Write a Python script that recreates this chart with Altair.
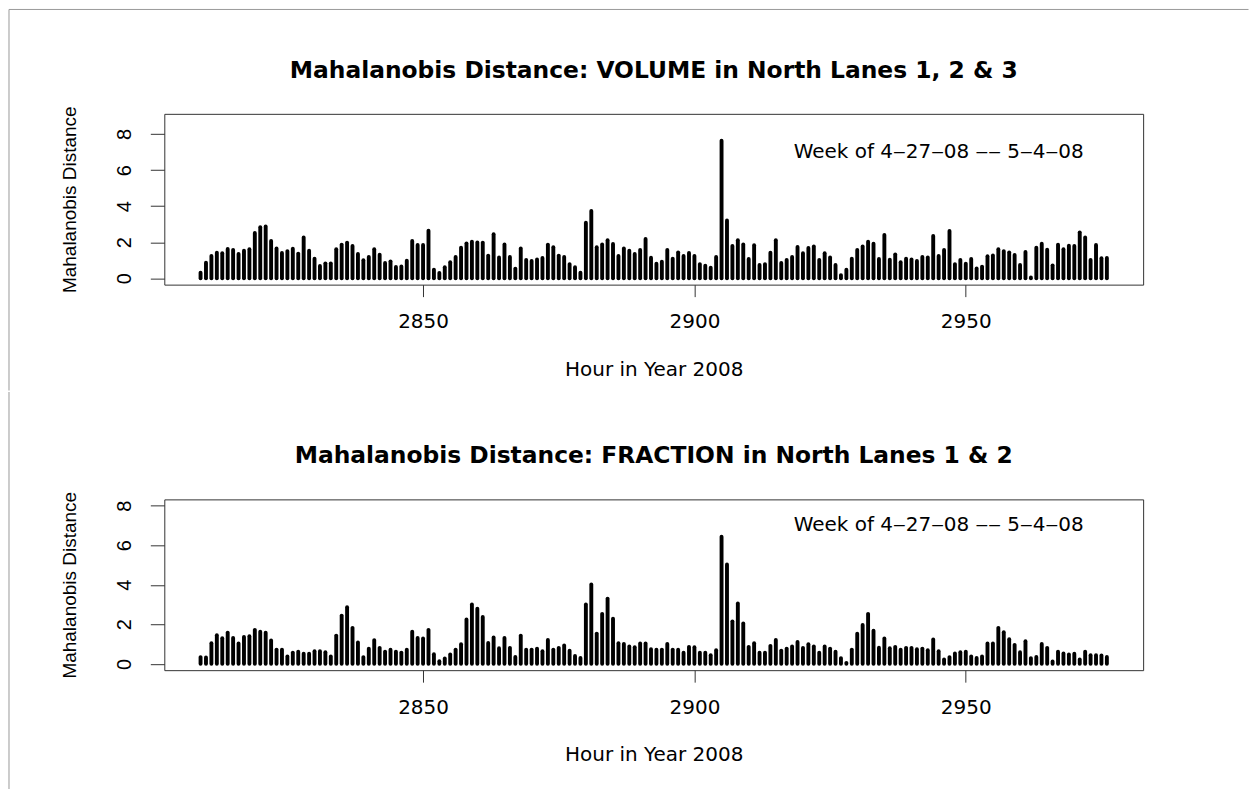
import altair as alt
import pandas as pd

# Hourly Mahalanobis distances, week of 4-27-08 to 5-4-08 (hours 2809..2976)
FIRST_HOUR = 2809

volume_md = [
    0.31, 0.87, 1.24, 1.42, 1.39, 1.63, 1.57, 1.35, 1.53, 1.61,
    2.51, 2.83, 2.88, 2.07, 1.66, 1.40, 1.51, 1.64, 1.37, 2.27,
    1.53, 1.09, 0.68, 0.83, 0.83, 1.61, 1.87, 1.98, 1.79, 1.35,
    1.00, 1.18, 1.61, 1.31, 0.85, 0.94, 0.63, 0.66, 0.98, 2.07,
    1.85, 1.85,
    2.64, 0.48, 0.30, 0.61, 0.89, 1.18, 1.70, 1.94, 2.03, 1.99,
    1.98, 1.26, 2.44, 1.16, 1.88, 1.18, 0.54, 1.66, 1.02, 0.96,
    1.05, 1.13, 1.87, 1.72, 1.26, 1.18, 0.79, 0.61, 0.31, 3.08,
    3.73, 1.72, 1.88, 2.11, 1.90, 1.24, 1.66, 1.53, 1.35, 1.57,
    2.18, 1.14, 0.81,
    0.92, 1.57, 1.09, 1.44, 1.24, 1.40, 1.24, 0.79, 0.70, 0.59,
    1.18, 7.63, 3.21, 1.79, 2.11, 1.88, 1.07, 1.83, 0.74, 0.79,
    1.42, 2.11, 0.85, 1.02, 1.18, 1.74, 1.39, 1.68, 1.77, 1.02,
    1.39, 1.16, 0.74, 0.18, 0.48, 1.09, 1.57, 1.77, 2.03, 1.92,
    1.07, 2.40, 1.03,
    1.33, 0.89, 1.09, 1.05, 0.96, 1.18, 1.16, 2.35, 1.24, 1.57,
    2.62, 0.79, 1.02, 0.81, 1.07, 0.55, 0.65, 1.22, 1.27, 1.61,
    1.51, 1.44, 1.29, 0.74, 1.46, 0.05, 1.70, 1.92, 1.59, 0.72,
    1.87, 1.61, 1.81, 1.79, 2.55, 2.27, 1.02, 1.85, 1.11, 1.13,
]

fraction_md = [
    0.34, 0.32, 1.04, 1.45, 1.30, 1.58, 1.31, 1.03, 1.36, 1.40,
    1.72, 1.62, 1.57, 1.18, 0.72, 0.72, 0.37, 0.57, 0.61, 0.51,
    0.51, 0.64, 0.64, 0.59, 0.37, 1.43, 2.44, 2.86, 1.82, 1.08,
    0.34, 0.76, 1.20, 0.81, 0.62, 0.71, 0.61, 0.57, 0.71, 1.62,
    1.31, 1.28,
    1.72, 0.49, 0.13, 0.27, 0.47, 0.72, 0.99, 2.24, 3.00, 2.79,
    2.37, 1.06, 1.33, 0.79, 1.31, 0.81, 0.35, 1.43, 0.71, 0.72,
    0.77, 0.64, 1.21, 0.72, 0.81, 0.93, 0.66, 0.40, 0.30, 3.00,
    4.02, 1.53, 2.53, 3.30, 2.29, 1.04, 1.01, 0.88, 0.84, 1.03,
    1.03, 0.74, 0.71,
    0.72, 1.01, 0.72, 0.71, 0.56, 0.86, 0.84, 0.56, 0.56, 0.44,
    0.69, 6.43, 5.03, 2.15, 3.05, 2.04, 0.86, 1.04, 0.56, 0.56,
    0.91, 1.21, 0.67, 0.77, 0.88, 1.11, 0.81, 0.99, 0.88, 0.56,
    0.88, 0.77, 0.61, 0.29, 0.05, 0.72, 1.52, 1.97, 2.53, 1.68,
    0.82, 1.28, 0.79,
    0.86, 0.71, 0.81, 0.81, 0.74, 0.77, 0.69, 1.23, 0.64, 0.22,
    0.34, 0.52, 0.59, 0.61, 0.37, 0.30, 0.37, 1.03, 1.03, 1.82,
    1.60, 1.25, 0.96, 0.59, 1.14, 0.29, 0.35, 1.01, 0.81, 0.12,
    0.62, 0.52, 0.47, 0.51, 0.22, 0.61, 0.44, 0.44, 0.42, 0.35,
]

hours = list(range(FIRST_HOUR, FIRST_HOUR + len(volume_md)))

x_ticks = [2850, 2900, 2950]
y_ticks = [0, 2, 4, 6, 8]
x_domain = [2802.32, 2982.68]
volume_ydomain = [-0.35, 9.12]
fraction_ydomain = [-0.32, 8.32]

week_label = "Week of 4\u201227\u201208 \u2012\u2012 5\u20124\u201208"
label_hour = [2945]
label_md = [7]

volume_title = "Mahalanobis Distance: VOLUME in North Lanes 1, 2 & 3"
fraction_title = "Mahalanobis Distance: FRACTION in North Lanes 1 & 2"
x_title = "Hour in Year 2008"
y_title = "Mahalanobis Distance"

H_FONT = "DejaVu Sans"      # horizontal text
V_FONT = "Liberation Sans"  # rotated text
INK = "black"
BOX = "#333333"
EDGE = "#999999"

W, H = 980, 171


def page_edge(x, y=None, x2=None, y2=None):
    enc = {"x": alt.value(x)}
    if y is not None:
        enc["y"] = alt.value(y)
    if x2 is not None:
        enc["x2"] = alt.value(x2)
    if y2 is not None:
        enc["y2"] = alt.value(y2)
    return (
        alt.Chart(pd.DataFrame({"k": [0]}))
        .mark_rule(color=EDGE, strokeWidth=1)
        .encode(**enc)
    )


def panel(values, title, ydomain, title_dy, edges):
    df = pd.DataFrame({"hour": hours, "md": values})

    x = alt.X(
        "hour:Q",
        title=x_title,
        scale=alt.Scale(domain=x_domain, nice=False, zero=False),
        axis=alt.Axis(
            values=x_ticks, format="d", grid=False, domain=False,
            tickSize=12, tickColor=BOX, tickWidth=1,
            labelFont=H_FONT, labelFontSize=20, labelColor=INK,
            labelPadding=15, labelFlush=False, labelOverlap=False,
            titleFont=H_FONT, titleFontSize=20, titleFontWeight="normal",
            titleColor=INK, titleAlign="center", titleBaseline="alphabetic",
            titleX=W / 2, titleY=90.8,
        ),
    )
    y = alt.Y(
        "md:Q",
        title=y_title,
        scale=alt.Scale(domain=ydomain, nice=False, zero=False),
        axis=alt.Axis(
            values=y_ticks, grid=False, domain=False,
            tickSize=14, tickColor=BOX, tickWidth=1,
            labelAngle=270, labelAlign="center", labelBaseline="alphabetic",
            labelPadding=19.5, labelFont=V_FONT, labelFontSize=20,
            labelColor=INK, labelOverlap=False,
            titleFont=V_FONT, titleFontSize=19, titleFontWeight="normal",
            titleColor=INK, titleAngle=270, titleAlign="center",
            titleBaseline="alphabetic", titleX=-88.5, titleY=H / 2,
        ),
    )

    bars = (
        alt.Chart(df)
        .mark_rule(color=INK, strokeWidth=3.9, strokeCap="round")
        .encode(x=x, y=y, y2=alt.datum(0))
    )

    note = (
        alt.Chart(pd.DataFrame({"hour": label_hour, "md": label_md,
                                "label": [week_label]}))
        .mark_text(font=H_FONT, fontSize=20, align="center",
                   baseline="middle", color=INK)
        .encode(
            x=alt.X("hour:Q", title=x_title),
            y=alt.Y("md:Q", title=y_title),
            text="label:N",
        )
    )

    return alt.layer(bars, note, *edges).properties(
        width=W,
        height=H,
        title=alt.TitleParams(
            text=title, font=H_FONT, fontSize=23.4, fontWeight="bold",
            color=INK, anchor="middle", frame="group", offset=0,
            baseline="alphabetic", dy=title_dy,
        ),
    )


top = panel(
    volume_md, volume_title, volume_ydomain, 92.7,
    [page_edge(-155.5, y=-104.5, x2=1085.5),
     page_edge(-155.5, y=-104.5, y2=277)],
)
bottom = panel(
    fraction_md, fraction_title, fraction_ydomain, 95.2,
    [page_edge(-155.5, y=-107.5, y2=290.5)],
)

chart = (
    alt.vconcat(top, bottom, spacing=-1)
    .properties(padding={"left": 7.5, "top": 7.5, "right": 0, "bottom": 0},
                background="white")
    .configure_view(stroke=BOX, strokeWidth=1)
)

chart.save("out.html", embed_options={"renderer": "svg", "actions": False})
